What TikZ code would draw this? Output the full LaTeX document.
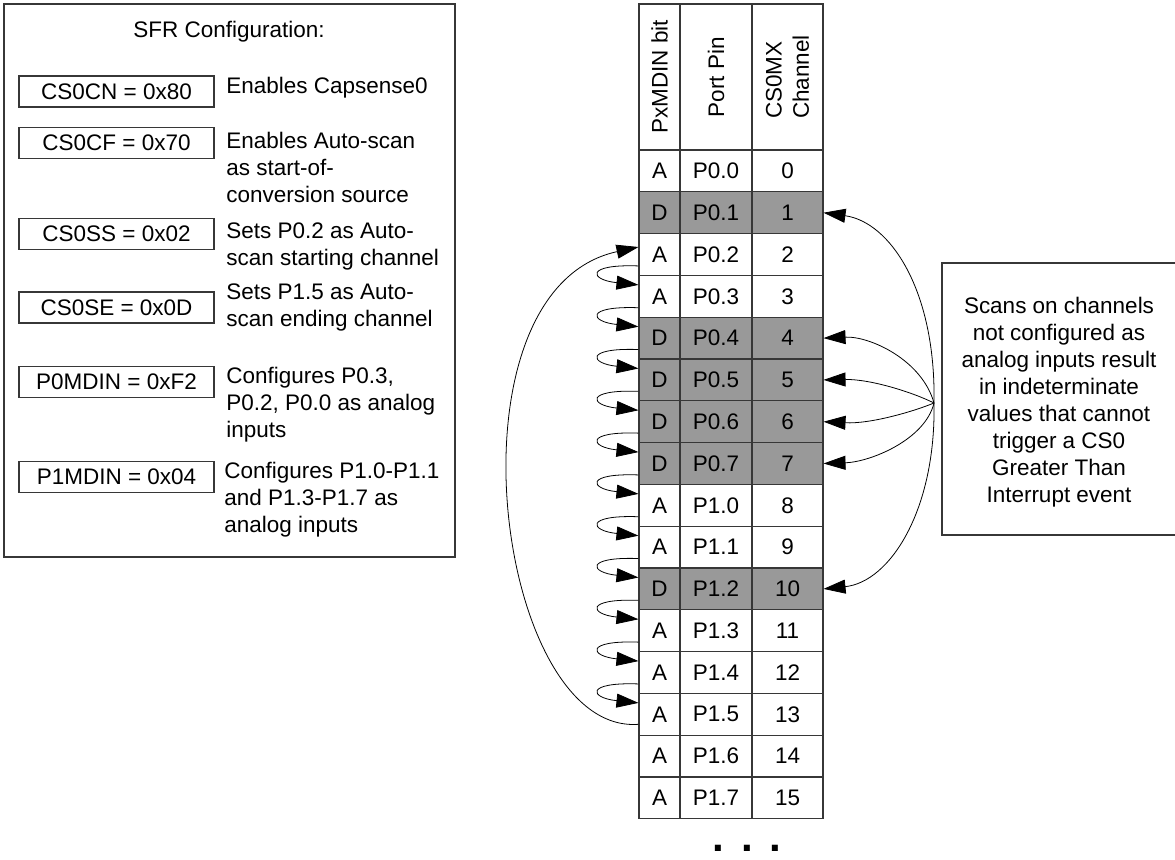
\documentclass[tikz,border=0pt]{standalone}
\usepackage{fontspec}
\setmainfont{Liberation Sans}
\usetikzlibrary{arrows.meta}
\definecolor{cellgray}{RGB}{153,153,153}
\definecolor{rule}{RGB}{55,55,55}

\begin{document}
\begin{tikzpicture}[x=0.02cm, y=-0.02cm,
    every node/.style={font=\fontsize{12.8}{15.4}\selectfont, inner sep=0pt},
    reg/.style={draw=rule, line width=0.6pt, minimum width=3.9cm, minimum height=0.62cm},
    desc/.style={anchor=north west, align=left},
    cell/.style={draw=rule, line width=0.6pt, minimum height=0.836cm},
    head/.style={draw=rule, line width=0.6pt, rotate=90, minimum width=2.92cm},
    link/.style={black, line width=0.45pt, -{Triangle[length=0.44cm, width=0.28cm]}}]
    \fill[white] (0,0) rectangle (1175,859);
    \useasboundingbox (0,0) rectangle (1175,859);
    % SFR configuration box
    \draw[rule, line width=0.6pt] (4,4) rectangle (455,557);
    \node[anchor=base] (title) at (229,37) {SFR Configuration:};
    \node[reg] (cs0cn) at (116.5,91.5) {CS0CN = 0x80};
    \node[reg] (cs0cf) at (116.5,143) {CS0CF = 0x70};
    \node[reg] (cs0ss) at (116.5,234) {CS0SS = 0x02};
    \node[reg] (cs0se) at (116.5,307.5) {CS0SE = 0x0D};
    \node[reg] (p0mdin) at (116.5,382) {P0MDIN = 0xF2};
    \node[reg] (p1mdin) at (116.5,477) {P1MDIN = 0x04};
    \node[desc] (d1) at (226,77) {Enables Capsense0};
    \node[desc] (d2) at (226,132) {Enables Auto-scan\\as start-of-\\conversion source};
    \node[desc] (d3) at (226,222) {Sets P0.2 as Auto-\\scan starting channel};
    \node[desc] (d4) at (226,283) {Sets P1.5 as Auto-\\scan ending channel};
    \node[desc] (d5) at (226,367) {Configures P0.3,\\P0.2, P0.0 as analog\\inputs};
    \node[desc] (d6) at (224,462) {Configures P1.0-P1.1\\and P1.3-P1.7 as\\analog inputs};
    % Table header
    \node[head, minimum height=0.82cm] (hb) at (659.5,77) {PxMDIN bit};
    \node[head, minimum height=1.44cm] (hp) at (716,77) {Port Pin};
    \node[head, minimum height=1.42cm, align=left] (hc) at (787.5,77) {CS0MX\\Channel};
    % Table rows
    \foreach \bit/\pin/\shade [count=\i from 0] in {A/P0.0/white, D/P0.1/cellgray,
        A/P0.2/white, A/P0.3/white, D/P0.4/cellgray, D/P0.5/cellgray, D/P0.6/cellgray,
        D/P0.7/cellgray, A/P1.0/white, A/P1.1/white, D/P1.2/cellgray, A/P1.3/white,
        A/P1.4/white, A/P1.5/white, A/P1.6/white, A/P1.7/white} {
        \node[cell, fill=\shade, minimum width=0.82cm] (b\i) at (659.5,{150+41.8*(\i+0.5)}) {\bit};
        \node[cell, fill=\shade, minimum width=1.44cm] (p\i) at (716,{150+41.8*(\i+0.5)}) {\pin};
        \node[cell, fill=\shade, minimum width=1.42cm] (c\i) at (787.5,{150+41.8*(\i+0.5)}) {\i};
    }
    \node[font=\bfseries\fontsize{24}{24}\selectfont, anchor=base] (more) at (747,851) {.\hspace{0.4em}.\hspace{0.4em}.};
    % Auto-scan sequence
    \draw[link] ([yshift=-0.2cm]b13.west) .. controls (495,735) and (440,290) .. ([yshift=0.15cm]b2.west);
    \foreach \i [evaluate=\i as \j using int(\i+1)] in {2,...,12}
        \draw[link] ([yshift=0.2cm]b\i.south west) .. controls +(-54,-2) and +(-49,-5) .. ([yshift=-0.2cm]b\j.north west);
    % Note on digital channels
    \coordinate (src) at (934,403);
    \draw[rule, line width=0.6pt] (1176,263) -| (942,535) -- (1176,535);
    \node[align=center] (note) at (1059,402) {Scans on channels\\not configured as\\analog inputs result\\in indeterminate\\values that cannot\\trigger a CS0\\Greater Than\\Interrupt event};
    \draw[link] (src) .. controls (936,290) and (890,222) .. (c1.east);
    \draw[link] (src) .. controls (922,360) and (870,336) .. (c4.east);
    \draw[link] (src) .. controls (912,392) and (870,379) .. (c5.east);
    \draw[link] (src) .. controls (912,412) and (870,424) .. (c6.east);
    \draw[link] (src) .. controls (925,440) and (870,462) .. (c7.east);
    \draw[link] (src) .. controls (936,510) and (890,582) .. (c10.east);
\end{tikzpicture}
\end{document}
